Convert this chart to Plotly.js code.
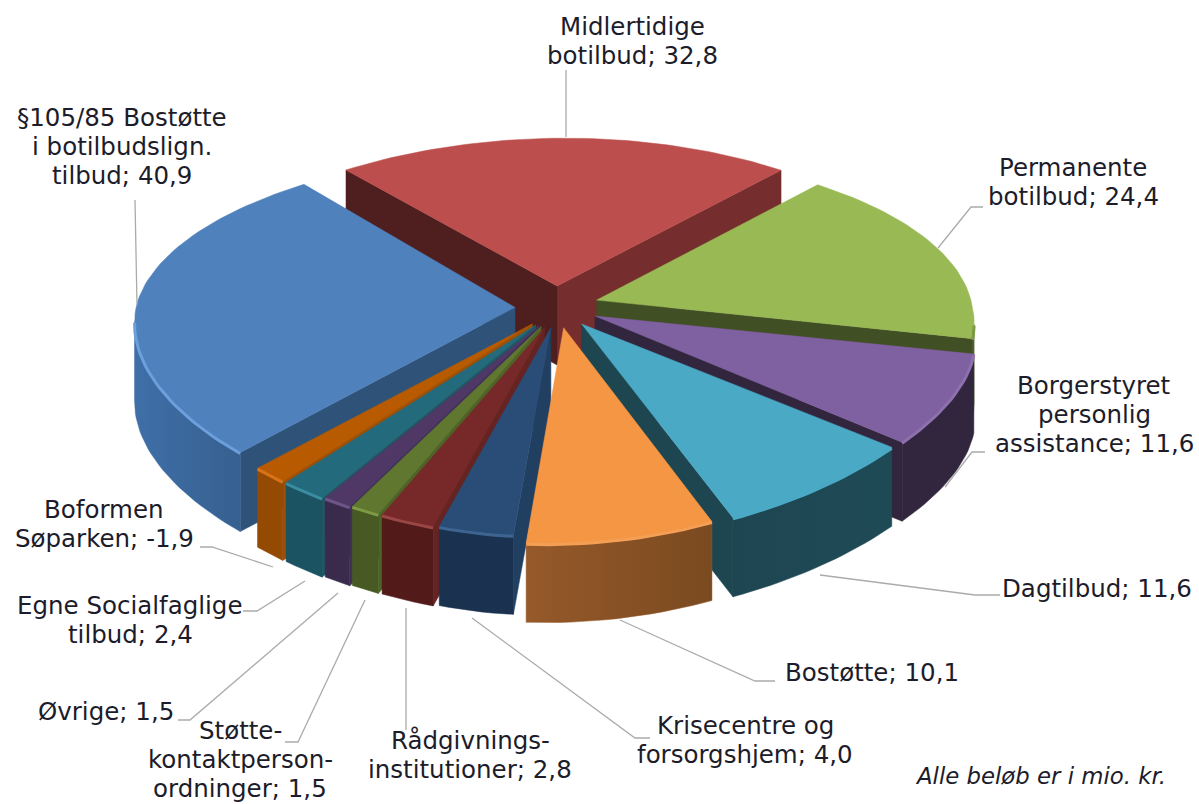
<!DOCTYPE html>
<html><head><meta charset="utf-8">
<script src="https://cdn.plot.ly/plotly-3.0.0.min.js"></script>
<style>html,body{margin:0;padding:0;background:#fff}#c{width:1199px;height:804px}</style>
</head><body><div id="c"></div>
<script>
// ---- data ----
const categories = ["Midlertidige<br>botilbud","Permanente<br>botilbud","Borgerstyret<br>personlig<br>assistance","Dagtilbud","Bostøtte","Krisecentre og<br>forsorgshjem","Rådgivnings-<br>institutioner","Støtte-<br>kontaktperson-<br>ordninger","Øvrige","Egne Socialfaglige<br>tilbud","Boformen<br>Søparken","§105/85 Bostøtte<br>i botilbudslign.<br>tilbud"];
const values = [32.8,24.4,11.6,11.6,10.1,4.0,2.8,1.5,1.5,2.4,-1.9,40.9];
// ---- styles ----
const topColors  = ["#BC4F4D","#98B954","#7F60A0","#4AA9C4","#F59645","#2A4D78","#762928","#5F772F","#4F3866","#236A7C","#B85B00","#4F81BD"];
const cutColors  = ["#4E1F1E","#414F24","#32263F","#1D4650","#8F5629","#213F61","#652322","#4F6327","#423057","#1E5867","#A05004","#2F5278"];
const cutColors2 = ["#752E2D","#414F24","#32263F","#1D4650","#8F5629","#213F61","#652322","#4F6327","#423057","#1E5867","#A05004","#2F5278"];
const wallFrom   = ["#752E2D","#414F24","#32263F","#1E4652","#96592A","#1A3250","#521B1A","#475A23","#3A2B4C","#1B5362","#954A03","#3F6FA8"];
const wallTo     = ["#752E2D","#5F7A33","#32263F","#1E4A56","#7A4A20","#1A3250","#521B1A","#475A23","#3A2B4C","#1B5362","#954A03","#36608F"];
const rimColors  = ["#BC4F4D","#7E9A45","#8D70AE","#4AA9C4","#F59F55","#3E6592","#9A4644","#7E9A45","#6E5488","#3A8CA0","#D9731A","#6C9FDB"];
const paintOrder = [0,1,2,3,11,10,9,8,7,6,5,4];
const startAngle = -40.5;
// ---- geometry of the tilted disc ----
const cx=557, cy=307, explodeX=42, explodeY=21, depth=79;
const radX=378, radY=178, kx=0.12, ky=0.18, sq=0.06;
const rimNudgeX=[0,-3,0,3,0,0,0,0,0,0,0,0];
const rimNudgeY=[3,3.5,3,0,0,-8,-7,-7,-6,-5,-5,-4];
const rad=d=>d*Math.PI/180;
function rim(a0){
  let a=a0;
  if(a0>165&&a0<275) a+=3.8*Math.sin(Math.PI*(a0-165)/110);
  if(a0>195&&a0<250) a+=1.2*Math.sin(Math.PI*(a0-195)/55);
  const X=Math.sin(rad(a)), Y=Math.cos(rad(a));
  let dy=0;
  if(a0>100&&a0<185) dy=-6*Math.sin(Math.PI*(a0-100)/85);
  return [radX*X/(1+kx*Y)*(1-sq*Y*Y)+8*Math.max(Y,0), -radY*Y/(1+ky*Y)+dy];
}
const magnitudes = values.map(Math.abs);
const total = magnitudes.reduce((a,b)=>a+b,0);
const traces=[];
function poly(pts,color,grad){
  const t={type:'scatter',mode:'lines',x:pts.map(p=>p[0]),y:pts.map(p=>p[1]),fill:'toself',fillcolor:color,
    line:{width:0.5,color:color},hoverinfo:'skip',showlegend:false};
  if(grad) t.fillgradient={type:'horizontal',colorscale:[[0,grad[0]],[1,grad[1]]]};
  traces.push(t);
}
let acc=startAngle; const spans=magnitudes.map(v=>{const s=[acc,acc+v/total*360];acc=s[1];return s;});
paintOrder.forEach(i=>{
  const [a0,a1]=spans[i], mid=(a0+a1)/2;
  const ox=cx+explodeX*Math.sin(rad(mid)), oy=cy-explodeY*Math.cos(rad(mid));
  const n=Math.max(2,Math.ceil((a1-a0)/1.5));
  const arc=[];
  for(let j=0;j<=n;j++){const r=rim(a0+(a1-a0)*j/n);arc.push([ox+r[0]+rimNudgeX[i],oy+r[1]+rimNudgeY[i]]);}
  const apex=[ox,oy], down=p=>[p[0],p[1]+depth];
  const first=arc[0], last=arc[n];
  if(last[0]>apex[0]) poly([last,apex,down(apex),down(last),last],cutColors2[i]);
  if(first[0]<apex[0]) poly([apex,first,down(first),down(apex),apex],cutColors[i]);
  // outer wall: only segments that run right-to-left face the viewer
  let vis=[];
  for(let j=0;j<n;j++){ if(arc[j+1][0]<arc[j][0]){ if(!vis.length)vis.push(arc[j]); vis.push(arc[j+1]); } }
  if(vis.length>1){
    poly(vis.concat(vis.slice().reverse().map(down)).concat([vis[0]]),wallFrom[i],[wallFrom[i],wallTo[i]]);
  }
  poly([apex].concat(arc).concat([apex]),topColors[i]);
  if(vis.length>1){
    traces.push({type:'scatter',mode:'lines',x:vis.map(p=>p[0]),y:vis.map(p=>p[1]+1),
      line:{width:3,color:rimColors[i]},hoverinfo:'skip',showlegend:false});
  }
});
// ---- leader lines ----
const leaderX=[[566,566],[983,971,938],[985,972,945],[1000,975,820],[775,755,620],[650,635,472],[406,406],[285,298,365],[178,190,338],[243,257,305],[200,212,273],[135,137]];
const leaderY=[[70,137],[207,207,248],[452,452,487],[595,595,575],[681,681,620],[738,738,618],[730,608],[742,742,600],[720,720,593],[611,611,581],[547,547,567],[200,305]];
leaderX.forEach((lx,i)=>traces.push({type:'scatter',mode:'lines',x:lx,y:leaderY[i],line:{width:1.3,color:'#ABABAB'},hoverinfo:'skip',showlegend:false}));
// ---- labels: one annotation per line for exact line spacing ----
const labelX=[632,1073,1094,1097,872,745,470,240,106,130,104,122];
const labelY=[26,167,385,588,672,725,740,730,711,605,509,117];
const lineGap=29;
const fmt=v=>v.toFixed(1).replace('.',',');
const annotations=[];
categories.forEach((c,i)=>{
  (c+'; '+fmt(values[i])).split('<br>').forEach((line,k)=>annotations.push({x:labelX[i],y:labelY[i]+k*lineGap,xref:'x',yref:'y',showarrow:false,
    xanchor:'center',yanchor:'middle',align:'center',text:line,font:{family:'DejaVu Sans',size:24.5,color:'#1c1c2a'},borderpad:0}));
});
annotations.push({x:1168,y:776,xref:'x',yref:'y',showarrow:false,xanchor:'right',yanchor:'middle',text:'<i>Alle beløb er i mio. kr.</i>',
  font:{family:'DejaVu Sans',size:22.8,color:'#1c1c2a'}});
Plotly.newPlot('c',traces,{
  width:1199,height:804,margin:{l:0,r:0,t:0,b:0},paper_bgcolor:'#fff',plot_bgcolor:'#fff',showlegend:false,
  xaxis:{range:[0,1199],visible:false,fixedrange:true},
  yaxis:{range:[804,0],visible:false,fixedrange:true},
  annotations
},{displayModeBar:false,staticPlot:true});
</script></body></html>
